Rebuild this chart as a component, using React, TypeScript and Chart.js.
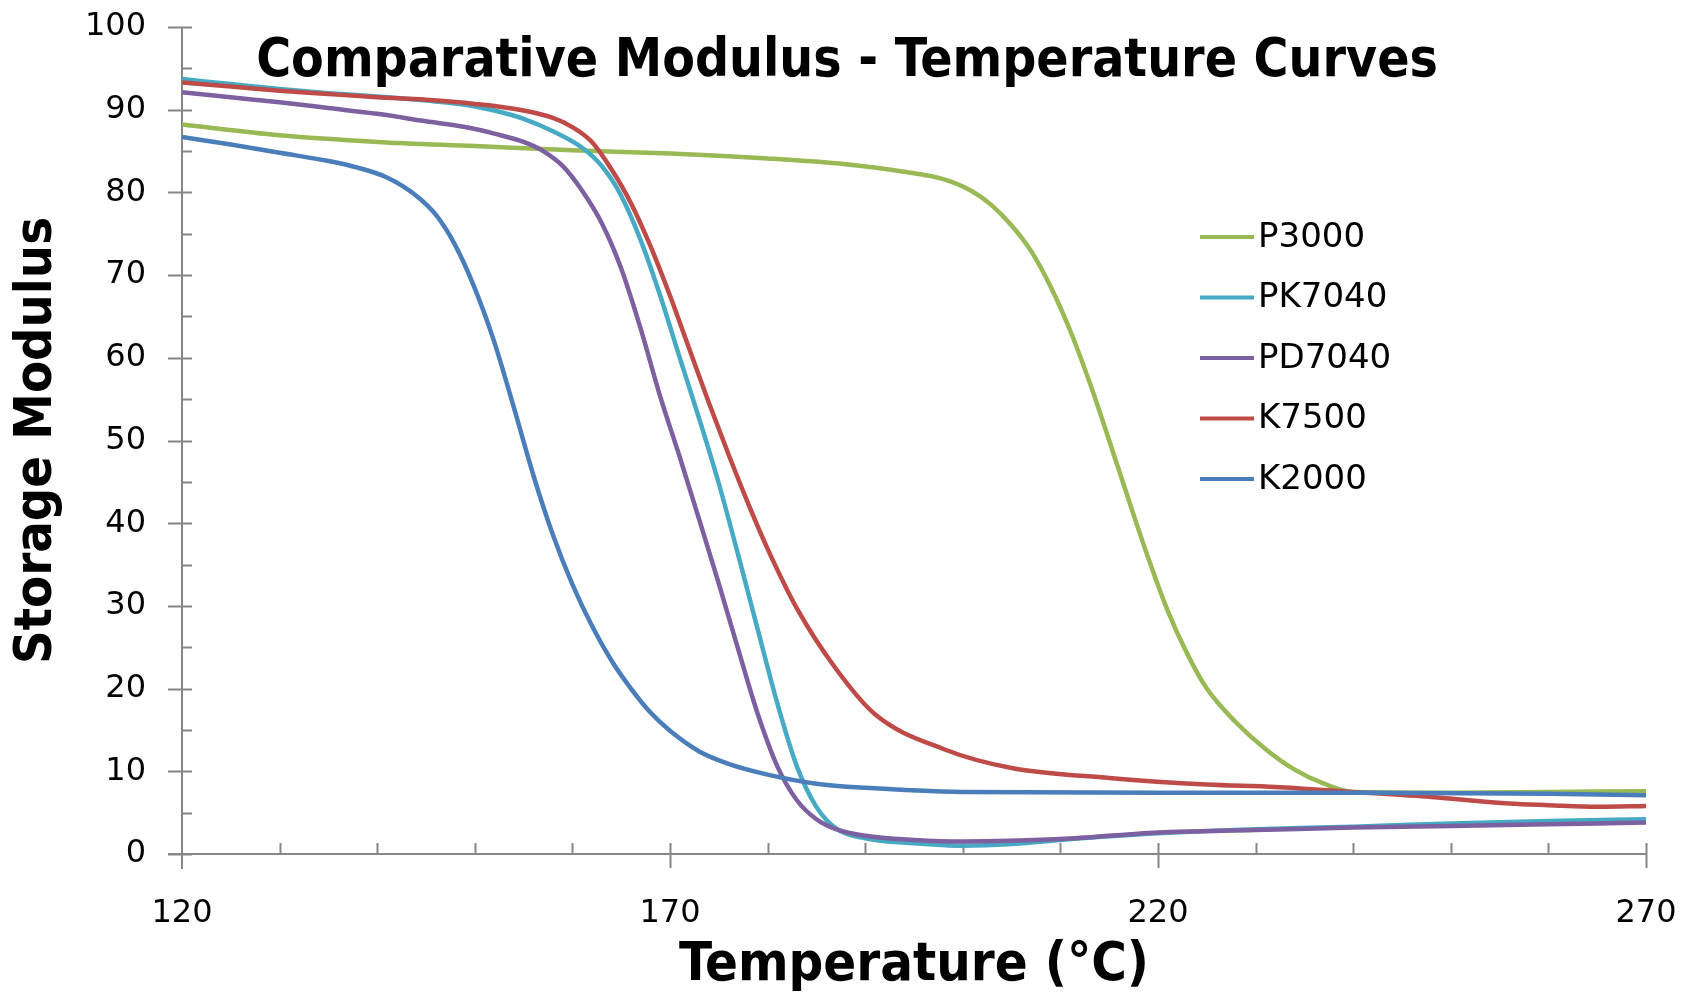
import { useEffect, useRef } from 'react';
import { Chart, registerables } from 'chart.js';

Chart.register(...registerables);

// ---------------- data ----------------
const SERIES_NAMES = ['P3000', 'PK7040', 'PD7040', 'K7500', 'K2000'];

const p3000T = [120, 130, 140, 150, 160, 170, 180, 188, 194, 198, 201, 203, 205, 207, 209, 211, 213, 215, 217, 219, 221, 223, 225, 228, 231, 234, 237, 240, 250, 260, 270];
const p3000V = [88.2, 86.9, 86.1, 85.6, 85.1, 84.7, 84.1, 83.4, 82.5, 81.6, 80.1, 78.4, 76.0, 72.9, 68.6, 63.3, 57.0, 50.0, 42.8, 35.8, 29.4, 24.2, 20.0, 15.9, 12.7, 10.2, 8.5, 7.5, 7.4, 7.5, 7.6];

const pk7040T = [120, 125, 130, 135, 140, 145, 149, 152, 155, 158, 161, 163, 165, 167, 169, 171, 173, 175, 177, 179, 181, 183, 185, 187, 190, 195, 200, 205, 210, 220, 230, 240, 250, 260, 270];
const pk7040V = [93.7, 93.1, 92.5, 92.0, 91.6, 91.1, 90.6, 89.9, 88.9, 87.4, 85.4, 83.2, 79.6, 74.2, 67.5, 60.0, 52.6, 44.8, 36.1, 27.1, 18.2, 10.6, 5.7, 3.1, 1.9, 1.3, 1.0, 1.2, 1.7, 2.5, 3.0, 3.3, 3.7, 4.0, 4.2];

const pd7040T = [120, 125, 130, 135, 140, 145, 149, 152, 155, 157, 159, 161, 163, 165, 167, 169, 171, 173, 175, 177, 179, 181, 183, 185, 187, 190, 195, 200, 210, 220, 230, 240, 250, 260, 270];
const pd7040V = [92.1, 91.5, 90.9, 90.2, 89.5, 88.6, 87.9, 87.1, 86.1, 85.0, 83.2, 80.2, 76.3, 70.8, 63.5, 55.3, 48.0, 40.4, 32.7, 24.7, 16.9, 10.6, 6.5, 4.2, 3.0, 2.2, 1.7, 1.5, 1.8, 2.6, 2.9, 3.2, 3.4, 3.6, 3.8];

const k7500T = [120, 125, 130, 135, 140, 145, 150, 155, 158, 160, 162, 164, 166, 168, 170, 172, 174, 176, 178, 180, 183, 187, 191, 198, 205, 215, 225, 232, 240, 248, 256, 260, 265, 270];
const k7500V = [93.3, 92.8, 92.3, 91.9, 91.5, 91.2, 90.7, 89.9, 89.0, 87.9, 86.1, 82.8, 78.7, 73.5, 67.5, 61.0, 54.5, 48.3, 42.4, 36.9, 29.7, 22.4, 16.9, 12.7, 10.4, 9.2, 8.4, 8.1, 7.5, 6.9, 6.1, 5.9, 5.7, 5.8];

const k2000T = [120, 125, 130, 135, 138, 141, 144, 146, 148, 150, 152, 154, 156, 158, 160, 162, 164, 166, 168, 170, 173, 176, 180, 185, 190, 200, 220, 240, 260, 270];
const k2000V = [86.7, 85.8, 84.8, 83.8, 83.0, 81.8, 79.6, 77.3, 73.6, 68.4, 61.9, 54.0, 45.8, 38.6, 32.6, 27.6, 23.4, 20.0, 17.1, 14.9, 12.4, 10.9, 9.6, 8.5, 8.0, 7.5, 7.4, 7.4, 7.3, 7.1];

const X_MIN = 120;
const X_MAX = 270;
const X_LABEL_STEP = 50;
const X_MINOR_STEP = 10;
const Y_MIN = 0;
const Y_MAX = 100;
const Y_LABEL_STEP = 10;
const Y_MINOR_STEP = 5;

const TITLE = 'Comparative Modulus - Temperature Curves';
const X_TITLE = 'Temperature (°C)';
const Y_TITLE = 'Storage Modulus';

// ---------------- style ----------------
const COLORS = ['#98B954', '#46AAC5', '#7D60A0', '#BE4B48', '#4A7EBB'];
const AXIS_COLOR = '#868686';
const FONT = '"DejaVu Sans", Verdana, sans-serif';
const BOLD_FONT = '"DejaVu Sans Condensed", "DejaVu Sans", sans-serif';

const seriesT = [p3000T, pk7040T, pd7040T, k7500T, k2000T];
const seriesV = [p3000V, pk7040V, pd7040V, k7500V, k2000V];

const decorPlugin = {
  id: 'decor',
  beforeDatasetsDraw(chart: any) {
    const { ctx } = chart;
    const xs = chart.scales.x;
    const ys = chart.scales.y;
    const x0 = xs.getPixelForValue(X_MIN);
    const x1 = xs.getPixelForValue(X_MAX);
    const y0 = ys.getPixelForValue(Y_MIN);
    const y1 = ys.getPixelForValue(Y_MAX);
    ctx.save();
    ctx.strokeStyle = AXIS_COLOR;
    ctx.lineWidth = 2;
    ctx.beginPath();
    ctx.moveTo(x0, y1);
    ctx.lineTo(x0, y0 + 15);
    ctx.moveTo(x0 - 14, y0);
    ctx.lineTo(x1, y0);
    for (let v = Y_MIN; v <= Y_MAX; v += Y_MINOR_STEP) {
      const py = Math.round(ys.getPixelForValue(v)) + 0.5;
      if (v % Y_LABEL_STEP === 0) {
        ctx.moveTo(x0 - 14, py);
        ctx.lineTo(x0 + 10, py);
      } else {
        ctx.moveTo(x0, py);
        ctx.lineTo(x0 + 10, py);
      }
    }
    for (let v = X_MIN + X_MINOR_STEP; v <= X_MAX; v += X_MINOR_STEP) {
      const px = Math.round(xs.getPixelForValue(v)) + 0.5;
      if ((v - X_MIN) % X_LABEL_STEP === 0) {
        ctx.moveTo(px, y0 + 14);
        ctx.lineTo(px, y0 - 11);
      } else {
        ctx.moveTo(px, y0);
        ctx.lineTo(px, y0 - 11);
      }
    }
    ctx.stroke();
    ctx.restore();
  },
  afterDraw(chart: any) {
    const { ctx } = chart;
    ctx.save();
    // chart title (overlaps plot area as in the reference)
    ctx.fillStyle = '#000';
    ctx.font = `bold 53px ${BOLD_FONT}`;
    ctx.textAlign = 'center';
    ctx.textBaseline = 'alphabetic';
    ctx.fillText(TITLE, chart.width / 2, 76);

    // legend inside the plot area
    ctx.font = `34px ${FONT}`;
    ctx.textAlign = 'left';
    ctx.textBaseline = 'middle';
    chart.data.datasets.forEach((ds: any, i: number) => {
      const yy = 237 + i * 60.5;
      ctx.strokeStyle = ds.borderColor;
      ctx.lineWidth = 4;
      ctx.beginPath();
      ctx.moveTo(1200, yy);
      ctx.lineTo(1254, yy);
      ctx.stroke();
      ctx.fillStyle = '#000';
      ctx.fillText(ds.label, 1258, yy + 1);
    });
    ctx.restore();
  },
};

export default function App() {
  const ref = useRef<HTMLCanvasElement | null>(null);

  useEffect(() => {
    if (!ref.current) return;
    const datasets = SERIES_NAMES.map((name, i) => ({
      label: name,
      data: seriesT[i].map((t, j) => ({ x: t, y: seriesV[i][j] })),
      borderColor: COLORS[i],
      backgroundColor: COLORS[i],
      borderWidth: 4.5,
      pointRadius: 0,
      fill: false,
      cubicInterpolationMode: 'monotone' as const,
      order: SERIES_NAMES.length - i,
    }));

    const chart = new Chart(ref.current, {
      type: 'line',
      data: { datasets },
      options: {
        animation: false,
        responsive: false,
        devicePixelRatio: 1,
        layout: { padding: { left: 0, right: 48, top: 27, bottom: 0 } },
        plugins: {
          legend: { display: false },
          title: { display: false },
          tooltip: { enabled: false },
        },
        scales: {
          x: {
            type: 'linear',
            min: X_MIN,
            max: X_MAX,
            grid: { display: false, drawTicks: false },
            border: { display: false },
            ticks: {
              stepSize: X_LABEL_STEP,
              color: '#000',
              font: { family: FONT, size: 32 },
              padding: 40,
              maxRotation: 0,
            },
            title: {
              display: true,
              text: X_TITLE,
              color: '#000',
              font: { family: BOLD_FONT, size: 54, weight: 'bold' },
              padding: { top: 0, bottom: 0 },
            },
            afterFit: (s: any) => {
              s.height = 144;
              s.paddingLeft = 0;
              s.paddingRight = 0;
            },
          },
          y: {
            type: 'linear',
            min: Y_MIN,
            max: Y_MAX,
            grid: { display: false, drawTicks: false },
            border: { display: false },
            ticks: {
              stepSize: Y_LABEL_STEP,
              color: '#000',
              font: { family: FONT, size: 32 },
              padding: 36,
            },
            title: {
              display: true,
              text: Y_TITLE,
              color: '#000',
              font: { family: BOLD_FONT, size: 52, weight: 'bold' },
              padding: { top: 6, bottom: 0 },
            },
            afterFit: (s: any) => {
              s.width = 182;
              s.paddingTop = 0;
              s.paddingBottom = 0;
            },
          },
        },
      } as any,
      plugins: [decorPlugin],
    });
    return () => chart.destroy();
  }, []);

  return (
    <div style={{ position: 'fixed', left: 0, top: 0, width: 1694, height: 998, background: '#fff' }}>
      <canvas ref={ref} width={1694} height={998} style={{ width: 1694, height: 998, display: 'block' }} />
    </div>
  );
}
